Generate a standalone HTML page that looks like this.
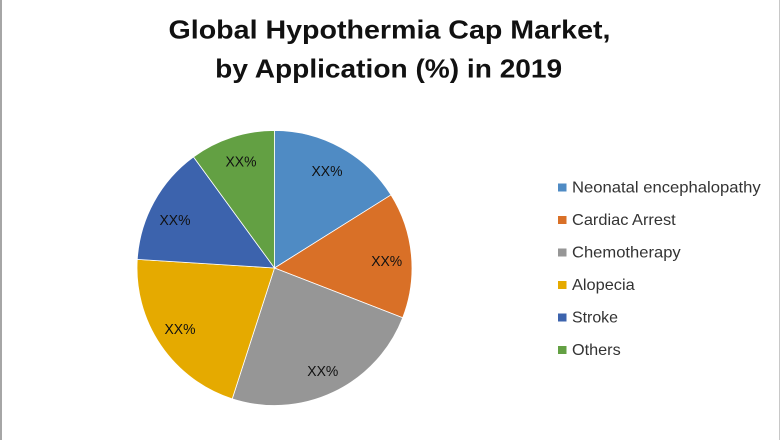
<!DOCTYPE html>
<html><head><meta charset="utf-8"><style>
html,body{margin:0;padding:0;background:#fff;}
svg{display:block;}
text{font-family:"Liberation Sans",Arial,sans-serif;}
</style></head><body>
<svg width="780" height="440" viewBox="0 0 780 440" xmlns="http://www.w3.org/2000/svg">
<rect x="0" y="0" width="780" height="440" fill="#fff"/>
<rect x="0" y="0" width="2" height="440" fill="#a6a6a6"/>
<rect x="779" y="0" width="1" height="440" fill="#c8c8c8"/>
<text x="389.5" y="38.3" font-size="26" font-weight="bold" fill="#111" text-anchor="middle" textLength="442" lengthAdjust="spacingAndGlyphs">Global Hypothermia Cap Market,</text>
<text x="388.7" y="77.7" font-size="26" font-weight="bold" fill="#111" text-anchor="middle" textLength="347" lengthAdjust="spacingAndGlyphs">by Application (%) in 2019</text>
<g stroke="#ffffff" stroke-width="0.8" stroke-linejoin="round">
<path d="M274.5,268 L274.5,130.5 A137.5,137.5 0 0 1 390.98,194.93 Z" fill="#4f8bc4"/>
<path d="M274.5,268 L390.98,194.93 A137.5,137.5 0 0 1 402.69,317.72 Z" fill="#d97027"/>
<path d="M274.5,268 L402.69,317.72 A137.5,137.5 0 0 1 232.23,398.85 Z" fill="#969696"/>
<path d="M274.5,268 L232.23,398.85 A137.5,137.5 0 0 1 137.27,259.37 Z" fill="#e5aa00"/>
<path d="M274.5,268 L137.27,259.37 A137.5,137.5 0 0 1 193.47,156.91 Z" fill="#3c63ad"/>
<path d="M274.5,268 L193.47,156.91 A137.5,137.5 0 0 1 274.5,130.5 Z" fill="#63a043"/>
</g>
<g font-size="15" fill="#111" text-anchor="middle">
<text x="327" y="176" textLength="31" lengthAdjust="spacingAndGlyphs">XX%</text>
<text x="386.7" y="266.2" textLength="31" lengthAdjust="spacingAndGlyphs">XX%</text>
<text x="322.8" y="376" textLength="31" lengthAdjust="spacingAndGlyphs">XX%</text>
<text x="180" y="333.8" textLength="31" lengthAdjust="spacingAndGlyphs">XX%</text>
<text x="175" y="225" textLength="31" lengthAdjust="spacingAndGlyphs">XX%</text>
<text x="241" y="166.7" textLength="31" lengthAdjust="spacingAndGlyphs">XX%</text>
</g>
<g>
<rect x="558" y="183.5" width="8.5" height="8" fill="#4f8bc4"/>
<rect x="558" y="216" width="8.5" height="8" fill="#d97027"/>
<rect x="558" y="248.5" width="8.5" height="8" fill="#969696"/>
<rect x="558" y="281" width="8.5" height="8" fill="#e5aa00"/>
<rect x="558" y="313.5" width="8.5" height="8" fill="#3c63ad"/>
<rect x="558" y="346" width="8.5" height="8" fill="#63a043"/>
</g>
<g font-size="16" fill="#333">
<text x="572" y="192.3" textLength="188.7" lengthAdjust="spacingAndGlyphs">Neonatal encephalopathy</text>
<text x="572" y="224.8" textLength="103.7" lengthAdjust="spacingAndGlyphs">Cardiac Arrest</text>
<text x="572" y="257.3" textLength="108.7" lengthAdjust="spacingAndGlyphs">Chemotherapy</text>
<text x="572" y="289.8" textLength="62.7" lengthAdjust="spacingAndGlyphs">Alopecia</text>
<text x="572" y="322.3" textLength="46" lengthAdjust="spacingAndGlyphs">Stroke</text>
<text x="572" y="354.8" textLength="48.7" lengthAdjust="spacingAndGlyphs">Others</text>
</g>
</svg>
</body></html>
